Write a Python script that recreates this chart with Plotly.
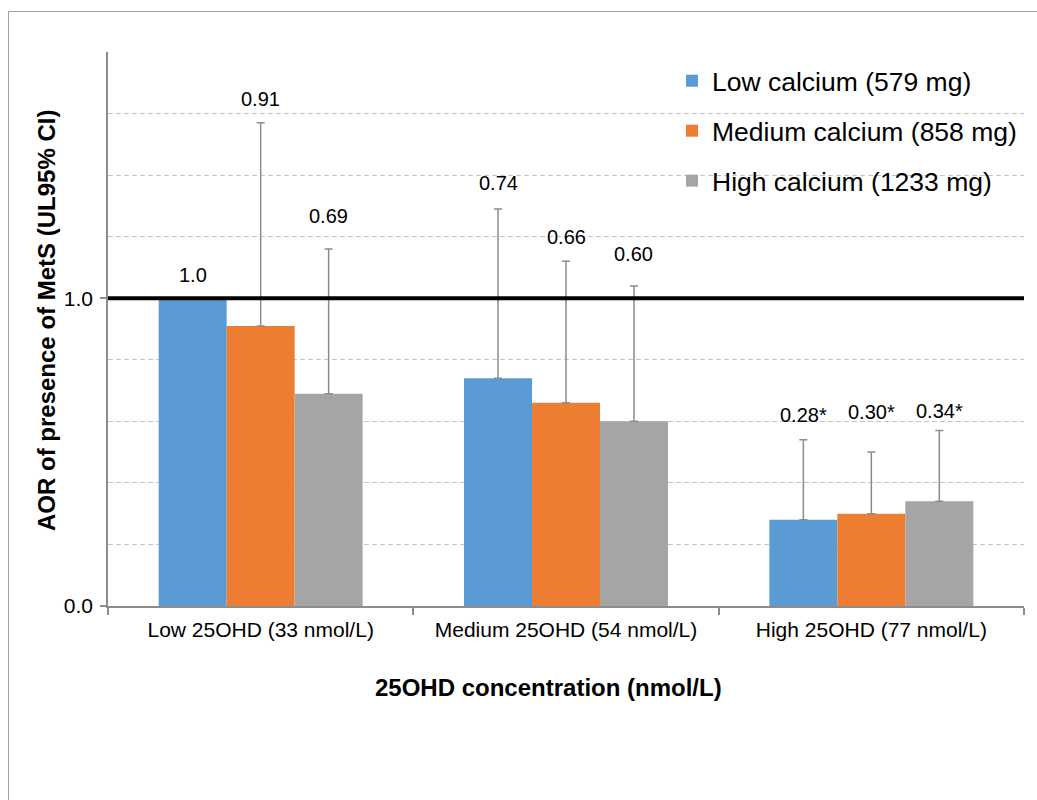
import plotly.graph_objects as go

# ---- data ----
categories = ["Low 25OHD (33 nmol/L)", "Medium 25OHD (54 nmol/L)", "High 25OHD (77 nmol/L)"]
series_names = ["Low calcium (579 mg)", "Medium calcium (858 mg)", "High calcium (1233 mg)"]
low_calcium_aor = [1.0, 0.74, 0.28]
medium_calcium_aor = [0.91, 0.66, 0.30]
high_calcium_aor = [0.69, 0.60, 0.34]
low_calcium_ul = [1.0, 1.29, 0.54]
medium_calcium_ul = [1.57, 1.12, 0.50]
high_calcium_ul = [1.16, 1.04, 0.57]
low_calcium_labels = ["1.0", "0.74", "0.28*"]
medium_calcium_labels = ["0.91", "0.66", "0.30*"]
high_calcium_labels = ["0.69", "0.60", "0.34*"]
y_tick_vals = [0, 1]
y_tick_text = ["0.0", "1.0"]

# ---- style / layout ----
colors = ["#5B9BD5", "#ED7D31", "#A5A5A5"]
label_y = [  # label vertical positions (data units)
    [1.074, 1.373, 0.619],
    [1.648, 1.20, 0.630],
    [1.266, 1.145, 0.632],
]
W, H = 1037, 800
ML, MR, MT, MB = 108, 13, 52, 194
PW, PH = W - ML - MR, H - MT - MB
BARGAP = 0.332
FONT = "Liberation Sans, Arial, sans-serif"
AXCOL = "#8c8c8c"
GRIDCOL = "#c4c4c4"


def px_x(p):
    return (p - ML) / PW


def px_y(p):
    return (H - MB - p) / PH


values = [low_calcium_aor, medium_calcium_aor, high_calcium_aor]
uls = [low_calcium_ul, medium_calcium_ul, high_calcium_ul]
labels = [low_calcium_labels, medium_calcium_labels, high_calcium_labels]

fig = go.Figure()
for i, (name, vals, ul) in enumerate(zip(series_names, values, uls)):
    fig.add_trace(go.Bar(
        x=categories, y=vals, name=name, legendgroup=name,
        marker=dict(color=colors[i], line=dict(width=0)),
        error_y=dict(type="data", symmetric=False,
                     array=[u - v for u, v in zip(ul, vals)],
                     arrayminus=[0] * len(vals),
                     color=AXCOL, thickness=1.5, width=4),
    ))

bar_px = PW / len(categories) * (1 - BARGAP) / len(series_names)
annotations = []
for i in range(len(series_names)):
    for j, cat in enumerate(categories):
        annotations.append(dict(
            x=cat, y=label_y[i][j], xref="x", yref="y",
            xshift=(i - 1) * bar_px, text=labels[i][j], showarrow=False,
            font=dict(size=20, color="#000000", family=FONT),
            xanchor="center", yanchor="middle",
        ))

annotations.append(dict(
    x=px_x(548.5), y=px_y(688), xref="paper", yref="paper",
    text="<b>25OHD concentration (nmol/L)</b>", showarrow=False,
    font=dict(size=24, color="#000000", family=FONT),
    xanchor="center", yanchor="middle",
))
annotations.append(dict(
    x=px_x(46), y=px_y(321), xref="paper", yref="paper",
    text="<b>AOR of presence of MetS (UL95% CI)</b>", showarrow=False,
    textangle=-90,
    font=dict(size=24, color="#000000", family=FONT),
    xanchor="center", yanchor="middle",
))

shapes = [
    dict(type="line", xref="paper", yref="y", x0=0, x1=1, y0=1, y1=1,
         line=dict(color="#000000", width=4), layer="above"),
    dict(type="rect", xref="paper", yref="paper",
         x0=px_x(8.5), x1=px_x(W + 20), y0=px_y(H + 20), y1=px_y(11.5),
         line=dict(color="#a0a0a0", width=1), fillcolor="rgba(0,0,0,0)",
         layer="above"),
]

fig.update_layout(
    width=W, height=H, autosize=False,
    margin=dict(l=ML, r=MR, t=MT, b=MB, pad=0),
    paper_bgcolor="white", plot_bgcolor="white",
    font=dict(family=FONT, color="#000000"),
    barmode="group", bargap=BARGAP, bargroupgap=0,
    showlegend=True,
    legend=dict(
        x=px_x(672), y=px_y(57), xanchor="left", yanchor="top",
        font=dict(size=26.5, color="#000000", family=FONT),
        traceorder="grouped", tracegroupgap=12.5,
        bgcolor="rgba(0,0,0,0)", borderwidth=0,
    ),
    xaxis=dict(
        type="category", showline=True, linecolor=AXCOL, linewidth=1.5,
        ticks="outside", tickson="boundaries", ticklen=7, tickcolor=AXCOL,
        tickwidth=1.5, tickfont=dict(size=21, color="#000000", family=FONT),
        ticklabelstandoff=4,
        showgrid=False, zeroline=False,
    ),
    yaxis=dict(
        range=[0, 1.8], tickmode="array", tickvals=y_tick_vals, ticktext=y_tick_text,
        showline=True, linecolor=AXCOL, linewidth=1.5,
        ticks="outside", ticklen=6, tickcolor=AXCOL, tickwidth=1.5,
        tickfont=dict(size=21, color="#000000", family=FONT),
        ticklabelstandoff=3,
        showgrid=False, zeroline=False,
        minor=dict(tickmode="array", tickvals=[0.2, 0.4, 0.6, 0.8, 1.2, 1.4, 1.6, 1.8],
                   showgrid=True, gridcolor=GRIDCOL, griddash="5px,3px",
                   gridwidth=1, ticks=""),
    ),
    annotations=annotations,
    shapes=shapes,
)

fig.write_html("out.html")
